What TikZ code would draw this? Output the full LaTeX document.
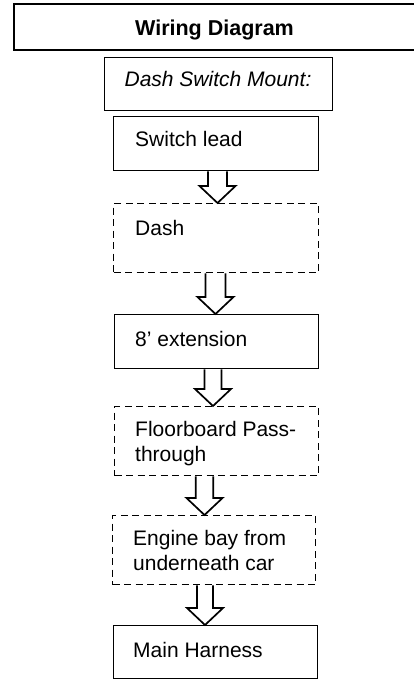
\documentclass[tikz,border=0pt]{standalone}
\usepackage{fontspec}
\setmainfont{Liberation Sans}
\usetikzlibrary{calc}
\newcommand\twoln[2]{\vtop{\hbox{#1}\hbox{#2}}}
\newcommand\barr[4]{% from node, to node, x centre, shaft half width
  \draw[barrow] let \p1=(#1.south), \p2=(#2.north) in
    ({#3pt-#4pt},\y1) -- ({#3pt-#4pt},{\y2+17pt}) -- ({#3pt-18pt},{\y2+17pt})
    -- (#3pt,\y2) -- ({#3pt+18pt},{\y2+17pt}) -- ({#3pt+#4pt},{\y2+17pt})
    -- ({#3pt+#4pt},\y1);}
\begin{document}
\begin{tikzpicture}[x=1pt,y=-1pt,
  box/.style={draw=black,line width=1.4pt,inner sep=0pt,anchor=north west,fill=white},
  dbox/.style={box,dash pattern=on 7pt off 4.5pt},
  titlebox/.style={draw=black,line width=2pt,inner sep=0pt,anchor=north west},
  lbl/.style={inner sep=0pt,anchor=base west,font=\fontsize{21}{25.5}\selectfont},
  barrow/.style={draw=black,line width=1.7pt,fill=white,line join=miter}]
\useasboundingbox (0,0) rectangle (413,679);
\fill[white] (0,0) rectangle (413,679);
% title
\node[titlebox,minimum width=410pt,minimum height=45.5pt] (title) at (12.5,3.5) {};
\node[inner sep=0pt,anchor=base,font=\fontsize{21.5}{25}\selectfont\bfseries] (titletxt) at (214.5,36) {Wiring Diagram};
% Dash switch mount
\node[box,minimum width=228pt,minimum height=53pt] (dsm) at (104,57) {};
\node[inner sep=0pt,anchor=base,font=\fontsize{21}{25}\selectfont\itshape] (dsmtxt) at (218,87) {Dash Switch Mount:};
% flow boxes
\node[box,minimum width=205pt,minimum height=54pt] (b1) at (113,116) {};
\node[dbox,minimum width=205pt,minimum height=69pt] (b2) at (113,203) {};
\node[box,minimum width=204pt,minimum height=54pt] (b3) at (114,314) {};
\node[dbox,minimum width=204pt,minimum height=69pt] (b4) at (114,406) {};
\node[dbox,minimum width=203pt,minimum height=69pt] (b5) at (112,515) {};
\node[box,minimum width=204pt,minimum height=53pt] (b6) at (113,625) {};
% labels
\node[lbl] (t1) at ($(b1.north west)+(22,31)$) {Switch lead};
\node[lbl] (t2) at ($(b2.north west)+(22,32)$) {Dash};
\node[lbl] (t3) at ($(b3.north west)+(21,32)$) {8’ extension};
\node[lbl] (t4) at ($(b4.north west)+(21,30)$) {\twoln{Floorboard Pass-}{through}};
\node[lbl] (t5) at ($(b5.north west)+(21,30)$) {\twoln{Engine bay from}{underneath car}};
\node[lbl] (t6) at ($(b6.north west)+(20,32)$) {Main Harness};
% block arrows
\barr{b1}{b2}{217.5}{9.5}
\barr{b2}{b3}{215.5}{10}
\barr{b3}{b4}{213}{8.5}
\barr{b4}{b5}{204.5}{8.8}
\barr{b5}{b6}{205}{8}
\end{tikzpicture}
\end{document}
